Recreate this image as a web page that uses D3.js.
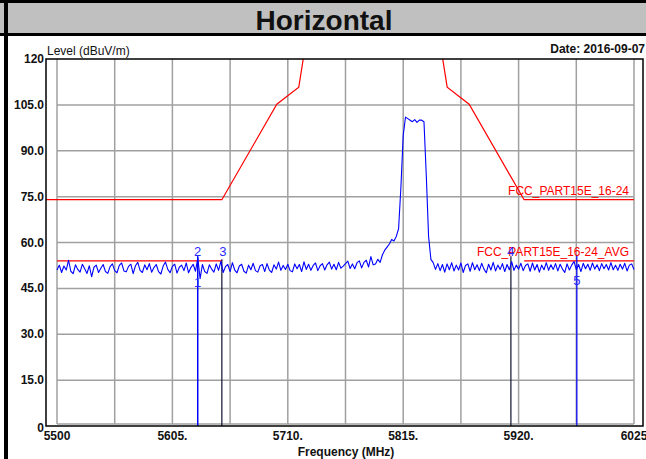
<!DOCTYPE html>
<html>
<head>
<meta charset="utf-8">
<script src="https://cdn.jsdelivr.net/npm/d3@7"></script>
<style>
  html, body { margin: 0; padding: 0; background: #fff; }
  svg { display: block; font-family: "Liberation Sans", Arial, sans-serif; }
</style>
</head>
<body>
<svg id="chart" width="646" height="459"></svg>
<script>
// ---------- data ----------
const titleText = "Horizontal";
const yAxisTitle = "Level (dBuV/m)";
const xAxisTitle = "Frequency (MHz)";
const dateText = "Date: 2016-09-07";

const yTicks = [0, 15, 30, 45, 60, 75, 90, 105, 120];
const yTickLabels = ["0", "15.0", "30.0", "45.0", "60.0", "75.0", "90.0", "105.0", "120"];
const xGrid = [5500, 5552.5, 5605, 5657.5, 5710, 5762.5, 5815, 5867.5, 5920, 5972.5, 6025];
const xTicks = [5500, 5605, 5710, 5815, 5920, 6025];
const xTickLabels = ["5500", "5605.", "5710.", "5815.", "5920.", "6025"];

// measured trace: frequency start / step (MHz) and levels (dBuV/m)
const traceStart = 5500;
const traceStep = 2.1;
const traceLevels = [
  51.0, 52.6, 50.2, 52.3, 51.0, 54.2, 50.6, 49.8, 52.7, 51.2,
  50.3, 52.9, 51.4, 49.9, 52.4, 48.8, 51.9, 52.6, 50.2, 51.6,
  52.8, 50.5, 49.9, 52.1, 53.0, 50.8, 50.1, 52.5, 53.3, 50.7,
  50.4, 52.2, 52.9, 49.8, 52.4, 53.5, 50.9, 50.2, 52.7, 51.1,
  53.1, 50.3, 51.8, 52.8, 50.5, 49.7, 52.3, 53.6, 51.2, 50.1,
  52.2, 52.9, 50.0, 51.9, 52.6, 50.8, 53.3, 50.1, 51.8, 52.9,
  50.6, 55.0, 48.2, 52.8, 50.5, 49.9, 52.7, 51.3, 50.3, 53.0,
  50.9, 53.8, 50.2, 52.1, 52.8, 50.5, 53.4, 51.0, 50.1, 52.3,
  52.9, 50.6, 50.0, 52.6, 51.1, 53.2, 50.8, 50.3, 52.4, 52.8,
  50.5, 53.1, 51.0, 50.2, 52.7, 51.3, 53.6, 50.9, 52.5, 51.2,
  52.9, 50.8, 50.4, 53.0, 51.4, 52.8, 50.5, 53.7, 51.2, 52.9,
  50.9, 52.5, 53.3, 50.8, 52.4, 53.1, 51.0, 52.7, 53.6, 51.3,
  52.9, 51.1, 53.5, 51.6, 52.3, 53.1, 53.9, 51.5, 53.0, 51.4,
  53.4, 54.0, 51.7, 53.5, 54.2, 52.0, 55.4, 52.7,
  53.0, 54.5, 53.5, 56.0, 57.5, 58.5, 59.5, 61.0, 60.5, 62.0,
  64.5, 78.0, 95.0, 101.0, 100.5, 100.0, 99.5, 100.2, 99.3, 100.0,
  100.0, 99.5, 82.0, 62.0, 54.5,
  53.4, 51.2, 53.1, 50.8, 52.8, 50.3, 53.0, 51.1, 53.4, 50.7,
  52.6, 51.0, 53.3, 50.2, 52.5, 53.0, 50.6, 53.4, 51.1, 52.7,
  50.8, 53.2, 51.3, 50.1, 52.9, 51.0, 53.5, 50.7, 52.6, 51.2,
  53.1, 50.5, 52.8, 51.1, 53.7, 50.9, 52.6, 51.3, 53.2, 50.8,
  52.5, 53.0, 50.6, 53.3, 51.0, 52.8, 50.3, 52.6, 51.1, 53.4,
  50.9, 52.7, 51.2, 53.1, 50.7, 52.9, 51.3, 50.2, 53.0, 51.0,
  52.6, 53.8, 51.1, 52.8, 50.5, 53.2, 51.4, 52.9, 50.9, 53.3,
  51.3, 52.7, 50.8, 53.1, 51.4, 52.8, 51.0, 53.4, 51.1, 52.6,
  50.9, 52.9, 51.3, 53.2, 50.7, 52.6, 53.0, 51.2
];

// limit lines
const peakLimitFreq  = [5490, 5650, 5700, 5720, 5725, 5850, 5855, 5875, 5925, 6025];
const peakLimitLevel = [74,   74,   105.2, 110.8, 122.2, 122.2, 110.8, 105.2, 74, 74];
const avgLimitFreq  = [5500, 5650, null, 5925, 6025];
const avgLimitLevel = [54,   54,   null, 54,   54];
const peakLimitName = "FCC_PART15E_16-24";
const avgLimitName  = "FCC_PART15E_16-24_AVG";

// markers
const markerIds    = ["1", "2", "3", "4", "5"];
const markerFreq   = [5628, 5628, 5650, 5913, 5973];
const markerTop    = [55.5, 55.5, 54.5, 55.5, 56.0];
const markerLabelY = [47.0, 57.0, 57.0, 57.0, 47.5];
const markerColor  = ["#0000ff", "#0000ff", "#101030", "#101030", "#0000ff"];

// ---------- drawing ----------
const svg = d3.select("#chart");
const W = 646, H = 459;

// frame / title band
svg.append("rect").attr("x", 0).attr("y", 0).attr("width", W).attr("height", 36).attr("fill", "#000");
svg.append("rect").attr("x", 0).attr("y", 3).attr("width", W).attr("height", 30).attr("fill", "#c0c0c0");
svg.append("rect").attr("x", 4).attr("y", 0).attr("width", 4).attr("height", H).attr("fill", "#000");
svg.append("text").attr("x", 324).attr("y", 30)
  .attr("text-anchor", "middle").attr("font-size", 28).attr("font-weight", "bold")
  .attr("fill", "#111").text(titleText);

const x = d3.scaleLinear().domain([5500, 6025]).range([57, 634]);
const y = d3.scaleLinear().domain([0, 120]).range([426, 59]);

const frame = { left: 46, top: 59, right: 643, bottom: 426 };

// grid
const grid = svg.append("g").attr("stroke", "#a0a0a0").attr("stroke-width", 1.5);
grid.selectAll("line.v").data(xGrid).join("line")
  .attr("x1", d => x(d)).attr("x2", d => x(d)).attr("y1", frame.top).attr("y2", 424);
grid.selectAll("line.h").data(yTicks.filter(d => d > 0 && d < 120)).join("line")
  .attr("x1", x(5500)).attr("x2", x(6025)).attr("y1", d => y(d)).attr("y2", d => y(d));
grid.append("line").attr("x1", x(5500)).attr("x2", x(6025)).attr("y1", 424).attr("y2", 424);

// clip
svg.append("clipPath").attr("id", "plotclip").append("rect")
  .attr("x", frame.left).attr("y", frame.top)
  .attr("width", frame.right - frame.left).attr("height", frame.bottom - frame.top);
const plot = svg.append("g").attr("clip-path", "url(#plotclip)");

// limit lines
const peakData = peakLimitFreq.map((f, i) => [f, peakLimitLevel[i]]);
const avgData = avgLimitFreq.map((f, i) => [f, avgLimitLevel[i]]);
const line = d3.line().defined(d => d[0] !== null).x(d => x(d[0])).y(d => y(d[1]));
plot.append("path").attr("d", line(peakData)).attr("fill", "none").attr("stroke", "#ff0000").attr("stroke-width", 1.2);
plot.append("path").attr("d", line(avgData)).attr("fill", "none").attr("stroke", "#ff0000").attr("stroke-width", 1.2);

// markers lines
markerIds.forEach((id, i) => {
  plot.append("line")
    .attr("x1", x(markerFreq[i])).attr("x2", x(markerFreq[i]))
    .attr("y1", y(0)).attr("y2", y(markerTop[i]))
    .attr("stroke", markerColor[i]).attr("stroke-width", 1.2);
});

// trace
const traceData = traceLevels.map((v, i) => [traceStart + traceStep * i, v]);
plot.append("path").attr("d", line(traceData)).attr("fill", "none")
  .attr("stroke", "#0000ff").attr("stroke-width", 1.1).attr("stroke-linejoin", "round");

// limit labels
svg.append("text").attr("x", 629).attr("y", 195).attr("text-anchor", "end")
  .attr("font-size", 12).attr("fill", "#ff0000").text(peakLimitName);
svg.append("text").attr("x", 629).attr("y", 256).attr("text-anchor", "end")
  .attr("font-size", 12).attr("fill", "#ff0000").text(avgLimitName);

// marker labels
markerIds.forEach((id, i) => {
  svg.append("text").attr("x", x(markerFreq[i]) + (id === "3" ? 1 : 0)).attr("y", y(markerLabelY[i]))
    .attr("text-anchor", "middle").attr("dominant-baseline", "central")
    .attr("font-size", 13).attr("fill", "#2a2aff").text(id);
});

// frame (axes box)
svg.append("rect").attr("x", frame.left).attr("y", frame.top)
  .attr("width", frame.right - frame.left).attr("height", frame.bottom - frame.top)
  .attr("fill", "none").attr("stroke", "#000").attr("stroke-width", 1.5);

// y tick labels
svg.selectAll("text.yt").data(yTicks).join("text")
  .attr("x", 44).attr("y", d => y(d) + (d === 0 ? 2 : 0))
  .attr("text-anchor", "end").attr("dominant-baseline", "central")
  .attr("font-size", 12).attr("font-weight", "bold").attr("fill", "#111")
  .text((d, i) => yTickLabels[i]);

// x tick labels
svg.selectAll("text.xt").data(xTicks).join("text")
  .attr("x", d => x(d)).attr("y", 440)
  .attr("text-anchor", "middle")
  .attr("font-size", 12).attr("font-weight", "bold").attr("fill", "#111")
  .text((d, i) => xTickLabels[i]);

// axis titles
svg.append("text").attr("x", 346).attr("y", 456).attr("text-anchor", "middle")
  .attr("font-size", 12).attr("font-weight", "bold").attr("fill", "#111").text(xAxisTitle);
svg.append("text").attr("x", 47).attr("y", 55)
  .attr("font-size", 12).attr("fill", "#111").text(yAxisTitle);
svg.append("text").attr("x", 645).attr("y", 53).attr("text-anchor", "end")
  .attr("font-size", 12).attr("font-weight", "bold").attr("fill", "#111").text(dateText);
</script>
</body>
</html>
